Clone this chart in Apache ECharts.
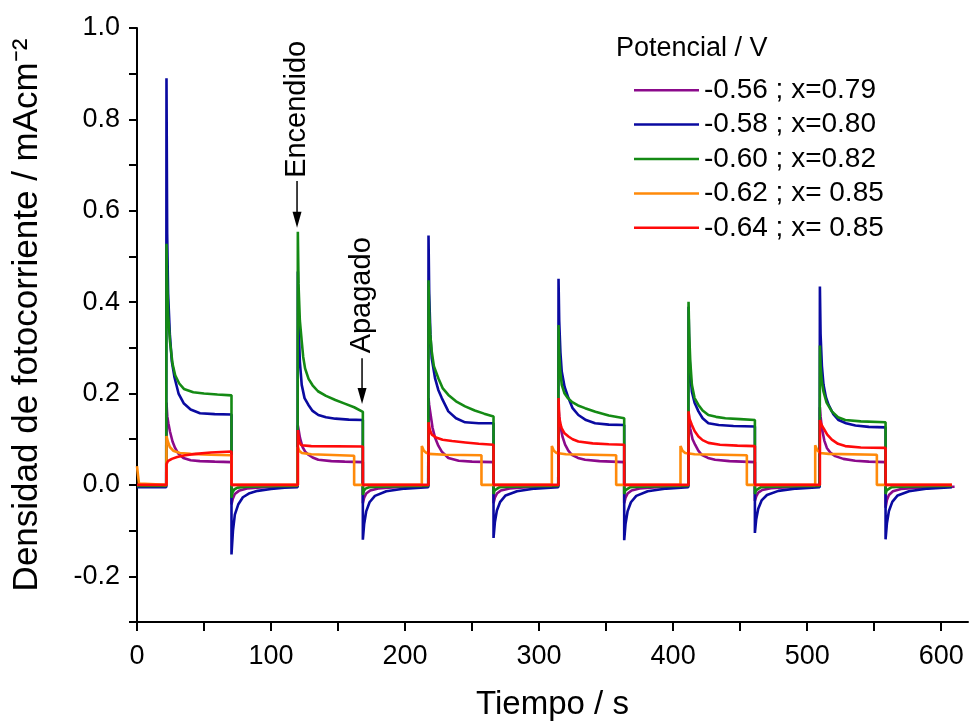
<!DOCTYPE html>
<html>
<head>
<meta charset="utf-8">
<script src="https://cdn.jsdelivr.net/npm/echarts@6/dist/echarts.min.js"></script>
<style>html,body{margin:0;padding:0;background:#fff}#c{width:972px;height:726px}</style>
</head>
<body>
<div id="c"></div>
<script>
const seriesNames = ['-0.56 ; x=0.79', '-0.58 ; x=0.80', '-0.60 ; x=0.82', '-0.62 ; x= 0.85', '-0.64 ; x= 0.85'];
const seriesColors = ['#8b0a8b', '#0a0aa0', '#148a14', '#ff8a0a', '#ff0a0a'];
const xTicks = [0,50,100,150,200,250,300,350,400,450,500,550,600];
const xLabels = [0,100,200,300,400,500,600];
const yTicks = [-0.3,-0.2,-0.1,0,0.1,0.2,0.3,0.4,0.5,0.6,0.7,0.8,0.9,1.0];
const yLabels = [-0.2,0,0.2,0.4,0.6,0.8,1.0];

const purple = [
[0,-0.003],[21.8,-0.003],
[22,0.18],[22.6,0.15],[23.4,0.135],[24.6,0.117],[26.5,0.095],[28.4,0.081],[31,0.068],[34.6,0.059],[40,0.054],[47,0.052],[58,0.051],[70.5,0.05],
[70.5,-0.043],[71.5,-0.03],[73,-0.02],[76,-0.013],[82,-0.008],[95,-0.005],[119.8,-0.003],
[120,0.13],[120.6,0.12],[121.6,0.103],[123.5,0.083],[125.5,0.073],[127.9,0.066],[131,0.06],[135.3,0.055],[145,0.052],[155,0.051],[168.5,0.05],
[168.5,-0.04],[169.5,-0.028],[171,-0.019],[174,-0.012],[180,-0.008],[193,-0.005],[217.3,-0.003],
[217.5,0.19],[218,0.175],[218.7,0.161],[220.5,0.125],[222.4,0.103],[224.8,0.086],[227.4,0.073],[232.3,0.059],[240,0.053],[250,0.051],[266,0.05],
[266,-0.04],[267,-0.028],[268.5,-0.019],[271.5,-0.012],[278,-0.008],[291,-0.005],[314.3,-0.003],
[314.5,0.17],[315,0.15],[315.7,0.131],[317.5,0.105],[319.4,0.088],[321.8,0.075],[324.4,0.066],[329,0.059],[334.3,0.055],[345,0.052],[363.5,0.05],
[363.5,-0.04],[364.5,-0.028],[366,-0.019],[369,-0.012],[375,-0.008],[388,-0.005],[411.3,-0.003],
[411.5,0.16],[412,0.14],[412.7,0.124],[414.5,0.1],[416.4,0.088],[418.8,0.075],[421.3,0.066],[426,0.059],[431.3,0.055],[442,0.052],[461,0.05],
[461,-0.035],[462,-0.025],[463.5,-0.017],[466.5,-0.011],[473,-0.007],[486,-0.005],[509.3,-0.003],
[509.5,0.17],[510,0.15],[511,0.124],[512.8,0.097],[514.7,0.081],[517.5,0.07],[520.9,0.063],[527,0.057],[535.8,0.053],[546,0.051],[558.5,0.05],
[558.5,-0.05],[559.5,-0.033],[561,-0.022],[564,-0.014],[570,-0.009],[583,-0.006],[610,-0.004]
];

const blue = [
[0,-0.005],[21.8,-0.005],
[22,0.89],[22.5,0.55],[23.2,0.42],[24.5,0.33],[26,0.27],[28,0.235],[31,0.2],[35,0.178],[40,0.165],[47,0.157],[58,0.155],[70.5,0.154],
[70.5,-0.152],[71.6,-0.1],[73,-0.065],[75.5,-0.043],[79,-0.027],[84,-0.018],[90,-0.013],[100,-0.009],[110,-0.006],[119.8,-0.005],
[120,0.467],[120.5,0.36],[121.5,0.27],[122.9,0.219],[125,0.19],[127.9,0.175],[131,0.162],[135.3,0.153],[141,0.148],[148,0.145],[158,0.143],[168.5,0.142],
[168.5,-0.12],[169.5,-0.085],[171,-0.058],[173.5,-0.038],[177.5,-0.024],[186,-0.014],[200,-0.008],[217.3,-0.005],
[217.5,0.546],[218,0.42],[218.9,0.33],[219.9,0.277],[222.4,0.233],[224.8,0.208],[227.4,0.19],[232.3,0.161],[238,0.146],[244.8,0.137],[255,0.135],[266,0.135],
[266,-0.116],[267,-0.082],[268.5,-0.056],[271,-0.037],[275,-0.023],[283.5,-0.014],[297,-0.008],[314.3,-0.005],
[314.5,0.451],[315,0.36],[315.9,0.29],[316.9,0.248],[319,0.215],[321.9,0.19],[325,0.168],[329.3,0.153],[335,0.142],[341.8,0.135],[352,0.132],[363.5,0.131],
[363.5,-0.121],[364.5,-0.085],[366,-0.058],[368.5,-0.038],[372.5,-0.024],[381,-0.014],[395,-0.008],[411.3,-0.005],
[411.5,0.39],[412,0.3],[412.9,0.24],[414,0.204],[416,0.18],[418.9,0.161],[422,0.146],[426.3,0.135],[434,0.131],[445,0.129],[461,0.128],
[461,-0.105],[462,-0.075],[463.5,-0.052],[466,-0.034],[470,-0.022],[478.5,-0.013],[492,-0.008],[509.3,-0.005],
[509.5,0.434],[510,0.33],[511,0.26],[512.2,0.219],[514,0.192],[516,0.175],[519.5,0.155],[523.4,0.142],[529,0.135],[536,0.13],[546,0.127],[558.5,0.126],
[558.5,-0.119],[559.5,-0.084],[561,-0.057],[563.5,-0.037],[567.5,-0.023],[576,-0.014],[590,-0.008],[608,-0.005]
];

const green = [
[0,-0.002],[21.8,-0.002],
[22,0.528],[22.5,0.45],[23.3,0.37],[24.6,0.314],[26.5,0.265],[28.5,0.24],[31.5,0.222],[35,0.21],[42,0.203],[50,0.2],[60,0.198],[70.5,0.196],
[70.5,-0.028],[71.3,-0.016],[72.5,-0.01],[75,-0.006],[82,-0.004],[100,-0.003],[119.8,-0.002],
[120,0.554],[120.5,0.44],[121.5,0.36],[122.9,0.314],[124,0.28],[125.4,0.255],[128,0.232],[131,0.218],[135,0.205],[141,0.195],[148,0.186],[155,0.178],[162,0.17],[168.5,0.16],
[168.5,-0.022],[169.3,-0.013],[170.5,-0.008],[173,-0.005],[180,-0.004],[200,-0.003],[217.3,-0.002],
[217.5,0.448],[218,0.38],[218.8,0.33],[219.9,0.292],[221.5,0.26],[224.9,0.233],[228,0.212],[232.3,0.197],[238,0.183],[244.8,0.172],[252,0.163],[259,0.156],[266,0.15],
[266,-0.02],[266.8,-0.012],[268,-0.008],[270.5,-0.005],[278,-0.004],[298,-0.003],[314.3,-0.002],
[314.5,0.35],[315,0.29],[315.8,0.25],[316.9,0.219],[319,0.2],[321.5,0.19],[324.4,0.182],[329,0.174],[334.3,0.168],[342,0.16],[352,0.152],[363.5,0.146],
[363.5,-0.02],[364.3,-0.012],[365.5,-0.008],[368,-0.005],[375,-0.004],[395,-0.003],[411.3,-0.002],
[411.5,0.401],[412,0.33],[412.8,0.27],[414,0.219],[416,0.19],[418.9,0.175],[422,0.163],[426.3,0.153],[432,0.149],[439,0.146],[450,0.144],[461,0.142],
[461,-0.02],[461.8,-0.012],[463,-0.008],[465.5,-0.005],[473,-0.004],[493,-0.003],[509.3,-0.002],
[509.5,0.305],[510,0.26],[511,0.225],[512.2,0.204],[514.5,0.18],[518.4,0.161],[523,0.148],[528.4,0.142],[540,0.139],[558.5,0.137],
[558.5,-0.02],[559.3,-0.012],[560.5,-0.008],[563,-0.005],[570,-0.004],[590,-0.003],[608,-0.002]
];

const orange = [
[0,0.041],[0.8,0.02],[1.5,0.003],[2.5,0],[22,0],
[22,0.107],[23,0.095],[24.5,0.083],[27,0.075],[32,0.07],[40,0.068],[55,0.066],[70.5,0.065],
[70.5,0],[120,0],
[120,0.083],[121,0.075],[123,0.07],[130,0.067],[162,0.064],
[162,0],[212.5,0],
[212.5,0.085],[214,0.075],[216,0.07],[217.5,0.068],[230,0.066],[257,0.065],
[257,0],[309.5,0],
[309.5,0.085],[311,0.075],[313,0.07],[320,0.067],[357.5,0.065],
[357.5,0],[405.5,0],
[405.5,0.085],[407,0.075],[409,0.07],[416,0.067],[455,0.065],
[455,0],[506,0],
[506,0.087],[507.5,0.076],[509.5,0.07],[516,0.068],[552,0.066],
[552,0],[608,0]
];

const red = [
[0,0],[22,0],
[22,0.045],[23,0.052],[26,0.057],[30,0.061],[36,0.065],[44,0.068],[55,0.071],[70.5,0.073],
[70.5,0],[120,0],
[120,0.12],[121,0.095],[122.5,0.087],[130,0.085],[168.5,0.084],
[168.5,0],[217.5,0],
[217.5,0.137],[218.5,0.12],[220,0.11],[223,0.104],[228,0.099],[235,0.096],[245,0.093],[255,0.09],[266,0.088],
[266,0],[314.5,0],
[314.5,0.19],[315,0.15],[316,0.132],[316.9,0.124],[319,0.113],[321.9,0.106],[325,0.1],[329.3,0.095],[340,0.091],[352,0.089],[363.5,0.088],
[363.5,0],[411.5,0],
[411.5,0.161],[412.2,0.145],[414,0.131],[416,0.118],[418.9,0.106],[422,0.098],[426.3,0.092],[435,0.088],[448,0.086],[461,0.085],
[461,0],[509.5,0],
[509.5,0.142],[510.5,0.133],[512.2,0.124],[515,0.11],[518.4,0.099],[523,0.09],[528.4,0.085],[540,0.082],[558.5,0.081],
[558.5,0],[608,0]
];

const annotations = [
  {text: 'Encendido', x: 119.4, yText: 0.822, yFrom: 0.665, yTo: 0.563},
  {text: 'Apagado', x: 167.9, yText: 0.415, yFrom: 0.277, yTo: 0.177}
];

const FONT = '"Liberation Sans", Arial, Helvetica, sans-serif';
const allData = [purple, blue, green, orange, red];
const chart = echarts.init(document.getElementById('c'), null, {renderer: 'canvas'});

const option = {
  animation: false,
  backgroundColor: '#fff',
  textStyle: {fontFamily: FONT},
  title: {
    text: 'Potencial / V', left: 616, top: 35, padding: 0,
    textStyle: {fontFamily: FONT, fontSize: 27, fontWeight: 'normal', color: '#000'}
  },
  legend: {
    orient: 'vertical', left: 634, top: 73, padding: 0, itemGap: 0,
    itemWidth: 65, itemHeight: 2.5, icon: 'rect',
    data: seriesNames,
    textStyle: {fontFamily: FONT, fontSize: 28, color: '#000', lineHeight: 34.4}
  },
  grid: {left: 137, right: 4, top: 28, bottom: 103, containLabel: false},
  xAxis: {
    type: 'value', min: 0, max: 620,
    name: 'Tiempo / s', nameLocation: 'middle', nameGap: 66,
    nameTextStyle: {fontFamily: FONT, fontSize: 33, color: '#000'},
    axisLine: {show: true, onZero: false, lineStyle: {color: '#000', width: 2}},
    axisTick: {show: true, inside: false, length: 9, customValues: xTicks, lineStyle: {color: '#000', width: 2}},
    axisLabel: {customValues: xLabels, margin: 21, fontFamily: FONT, fontSize: 27, color: '#000'},
    splitLine: {show: false}
  },
  yAxis: {
    type: 'value', min: -0.3, max: 1.0,
    name: 'Densidad de fotocorriente / mAcm⁻²', nameLocation: 'middle', nameGap: 92, nameRotate: 90,
    nameTextStyle: {fontFamily: FONT, fontSize: 35, color: '#000', padding: [0, 0, 0, 20]},
    axisLine: {show: true, onZero: false, lineStyle: {color: '#000', width: 2}},
    axisTick: {show: true, inside: false, length: 8, customValues: yTicks, lineStyle: {color: '#000', width: 2}},
    axisLabel: {customValues: yLabels, margin: 17, fontFamily: FONT, fontSize: 27, color: '#000',
      formatter: v => v.toFixed(1)},
    splitLine: {show: false}
  },
  series: allData.map((d, i) => ({
    name: seriesNames[i], type: 'line', data: d, showSymbol: false, symbol: 'none',
    lineStyle: {color: seriesColors[i], width: 2.6}, itemStyle: {color: seriesColors[i]},
    z: 2 + i, silent: true
  }))
};
chart.setOption(option);

const g = [];
annotations.forEach(a => {
  const pt = chart.convertToPixel({gridIndex: 0}, [a.x, a.yText]);
  const p1 = chart.convertToPixel({gridIndex: 0}, [a.x, a.yFrom]);
  const p2 = chart.convertToPixel({gridIndex: 0}, [a.x, a.yTo]);
  g.push({type: 'text', x: pt[0], y: pt[1], rotation: Math.PI / 2,
    style: {text: a.text, font: '29px ' + FONT, fill: '#000', textAlign: 'center', textVerticalAlign: 'middle'}});
  g.push({type: 'line', shape: {x1: p1[0], y1: p1[1], x2: p2[0], y2: p2[1] - 12}, style: {stroke: '#000', lineWidth: 1.5}});
  g.push({type: 'polygon', shape: {points: [[p2[0] - 4.5, p2[1] - 16], [p2[0] + 4.5, p2[1] - 16], [p2[0], p2[1]]]}, style: {fill: '#000'}});
});
chart.setOption({graphic: g});
</script>
</body>
</html>
